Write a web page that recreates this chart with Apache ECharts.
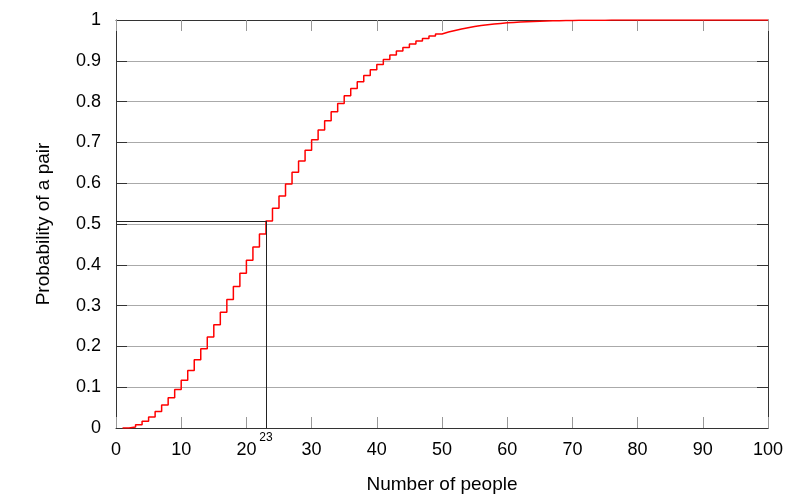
<!DOCTYPE html>
<html>
<head>
<meta charset="utf-8">
<script src="https://cdn.jsdelivr.net/npm/echarts@6/dist/echarts.min.js"></script>
<style>
  html, body { margin: 0; padding: 0; background: #fff; }
  #main { width: 800px; height: 500px; }
</style>
</head>
<body>
<div id="main"></div>
<script>
// 生日问题：n 个人中至少两人同一天生日的概率（读图，n = 1..100）
const prob = [
    0, 0.0027, 0.0082, 0.0164, 0.0271, 0.0405, 0.0562, 0.0743, 0.0946, 0.1169,
    0.1411, 0.1670, 0.1944, 0.2231, 0.2529, 0.2836, 0.3150, 0.3469, 0.3791, 0.4114,
    0.4437, 0.4757, 0.5073, 0.5383, 0.5687, 0.5982, 0.6269, 0.6545, 0.6810, 0.7063,
    0.7305, 0.7533, 0.7750, 0.7953, 0.8144, 0.8322, 0.8487, 0.8641, 0.8782, 0.8912,
    0.9032, 0.9140, 0.9239, 0.9329, 0.9410, 0.9483, 0.9548, 0.9606, 0.9658, 0.9704,
    0.9744, 0.9780, 0.9811, 0.9839, 0.9863, 0.9883, 0.9901, 0.9917, 0.9930, 0.9941,
    0.9951, 0.9959, 0.9966, 0.9972, 0.9977, 0.9981, 0.9984, 0.9987, 0.9990, 0.9992,
    0.9993, 0.9995, 0.9996, 0.9996, 0.9997, 0.9998, 0.9998, 0.9999, 0.9999, 0.9999,
    0.9999, 1, 1, 1, 1, 1, 1, 1, 1, 1,
    1, 1, 1, 1, 1, 1, 1, 1, 1, 1
];
const xTicks = [0, 10, 20, 30, 40, 50, 60, 70, 80, 90, 100];
const yTicks = [0, 0.1, 0.2, 0.3, 0.4, 0.5, 0.6, 0.7, 0.8, 0.9, 1];
const markPeople = 23;

const font = '"Liberation Sans", Arial, sans-serif';
const points = prob.map((p, i) => [i + 1, p]);
const markProb = prob[markPeople - 1];

const chart = echarts.init(document.getElementById('main'));

const xBase = {
    type: 'value', min: xTicks[0], max: xTicks[xTicks.length - 1], interval: 10,
    axisLine: { show: true, onZero: false, lineStyle: { color: '#333', width: 1 } },
    axisTick: { show: true, inside: true, length: 11, lineStyle: { color: '#999' } },
    splitLine: { show: false }
};
const yBase = {
    type: 'value', min: yTicks[0], max: yTicks[yTicks.length - 1], interval: 0.1,
    axisLine: { show: true, onZero: false, lineStyle: { color: '#333', width: 1 } },
    axisTick: { show: true, inside: true, length: 11, lineStyle: { color: '#333' } }
};

chart.setOption({
    animation: false,
    textStyle: { fontFamily: font },
    grid: { left: 116, right: 32, top: 20, bottom: 72, containLabel: false },
    xAxis: [
        Object.assign({}, xBase, {
            position: 'bottom',
            name: 'Number of people', nameLocation: 'middle', nameGap: 47,
            nameTextStyle: { fontSize: 19, color: '#000', fontFamily: font },
            axisLabel: { margin: 13, fontSize: 18, color: '#000', fontFamily: font }
        }),
        Object.assign({}, xBase, { position: 'top', axisLabel: { show: false } })
    ],
    yAxis: [
        Object.assign({}, yBase, {
            position: 'left',
            name: 'Probability of a pair', nameLocation: 'middle', nameGap: 63,
            nameTextStyle: { fontSize: 19, color: '#000', fontFamily: font },
            axisLabel: { margin: 15, fontSize: 18, color: '#000', fontFamily: font,
                formatter: v => String(Math.round(v * 10) / 10) },
            splitLine: { show: true, lineStyle: { color: '#aaa', width: 1 } }
        }),
        Object.assign({}, yBase, { position: 'right', axisLabel: { show: false }, splitLine: { show: false } })
    ],
    series: [{
        type: 'line',
        step: 'end',
        data: points,
        showSymbol: false,
        lineStyle: { color: '#ff0000', width: 1.5 },
        itemStyle: { color: '#ff0000' },
        markLine: {
            silent: true,
            symbol: 'none',
            lineStyle: { color: '#222', width: 1, type: 'solid' },
            data: [
                [
                    { coord: [markPeople, 0], label: { show: true, position: 'start', formatter: String(markPeople), fontSize: 12, color: '#000', distance: 4 } },
                    { coord: [markPeople, markProb] }
                ],
                [
                    { coord: [0, markProb], label: { show: false } },
                    { coord: [markPeople, markProb] }
                ]
            ]
        },
        z: 3
    }]
});
</script>
</body>
</html>
